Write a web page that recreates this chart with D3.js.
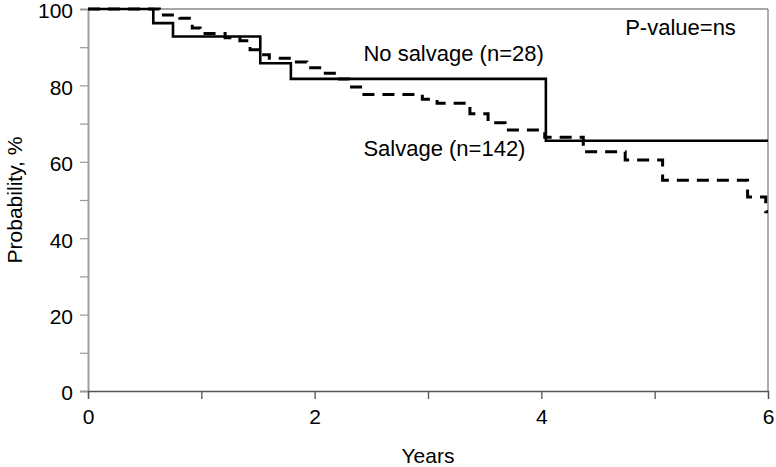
<!DOCTYPE html>
<html>
<head>
<meta charset="utf-8">
<script src="https://cdn.jsdelivr.net/npm/d3@7"></script>
<style>
  html, body { margin: 0; padding: 0; background: #fff; }
  svg { display: block; font-family: "Liberation Sans", Arial, sans-serif; }
</style>
</head>
<body>
<svg id="chart" width="776" height="467"></svg>
<script>
// ---- data ----
const xTicks = [0, 2, 4, 6];
const xMinorTicks = [1, 3, 5];
const yTicks = [0, 20, 40, 60, 80, 100];
const yMinorTicks = [10, 30, 50, 70, 90];

// No salvage (n=28): step times (years) and survival (%)
const noSalvageTimes = [0, 0.576, 0.75, 1.52, 1.79, 4.04, 6.0];
const noSalvageProb  = [100, 96.3, 92.8, 85.8, 81.7, 65.5, 65.5];

// Salvage (n=142)
const salvageTimes = [0, 0.63, 0.81, 0.92, 0.99, 1.21, 1.34, 1.43, 1.53, 1.60, 1.80, 1.93, 2.06, 2.20, 2.30, 2.42, 2.95, 3.08, 3.37, 3.53, 3.68, 4.03, 4.37, 4.74, 5.07, 5.82, 5.98, 6.0];
const salvageProb  = [100, 98.4, 97.6, 95.0, 93.6, 92.5, 91.7, 89.3, 88.0, 87.1, 86.1, 84.6, 83.2, 81.7, 79.6, 77.6, 76.4, 75.3, 72.6, 70.2, 68.3, 66.4, 62.6, 60.5, 55.2, 50.8, 46.9, 46.9];

const labels = [
  { text: "No salvage (n=28)", t: 2.43, p: 86.4 },
  { text: "Salvage (n=142)",   t: 2.43, p: 61.5 },
  { text: "P-value=ns",        t: 4.74, p: 93.2 }
];

// ---- layout ----
const svg = d3.select("#chart");
const x = d3.scaleLinear().domain([0, 6]).range([88, 768]);
const y = d3.scaleLinear().domain([0, 100]).range([391, 9]);

// frame: top and right borders
svg.append("line").attr("x1", x(0)).attr("x2", x(6)).attr("y1", y(100)).attr("y2", y(100))
  .attr("stroke", "#a6a6a6").attr("stroke-width", 2);
svg.append("line").attr("x1", x(6)).attr("x2", x(6)).attr("y1", y(100)).attr("y2", y(0))
  .attr("stroke", "#777").attr("stroke-width", 1.2);

// y axis
const yAxis = d3.axisLeft(y).tickValues(yTicks.concat(yMinorTicks)).tickSize(8).tickPadding(7)
  .tickFormat(d => yTicks.includes(d) ? d : "");
const gy = svg.append("g").attr("transform", `translate(${x(0)},0)`).call(yAxis);
gy.select(".domain").attr("stroke", "#a0a0a0").attr("stroke-width", 2);
gy.selectAll(".tick line").attr("stroke", "#999").attr("stroke-width", 1.2);
gy.selectAll(".tick text").attr("font-size", 21).attr("fill", "#000")
  .attr("font-family", "Liberation Sans, Arial, sans-serif").attr("dy", "0.42em");

// x axis
const xAxis = d3.axisBottom(x).tickValues(xTicks.concat(xMinorTicks)).tickSize(8).tickPadding(10)
  .tickFormat(d => xTicks.includes(d) ? d : "");
const gx = svg.append("g").attr("transform", `translate(0,${y(0)})`).call(xAxis);
gx.select(".domain").attr("stroke", "#555").attr("stroke-width", 1.3);
gx.selectAll(".tick line").attr("stroke", "#555").attr("stroke-width", 1.3);
gx.selectAll(".tick text").attr("font-size", 21).attr("fill", "#000")
  .attr("font-family", "Liberation Sans, Arial, sans-serif");

// axis titles
svg.append("text").attr("x", (x(0) + x(6)) / 2).attr("y", 463).attr("text-anchor", "middle")
  .attr("font-size", 21).text("Years");
svg.append("text").attr("transform", `translate(22,${(y(0) + y(100)) / 2}) rotate(-90)`)
  .attr("text-anchor", "middle").attr("font-size", 21).text("Probability, %");

// curves
const line = d3.line().x(d => x(d[0])).y(d => y(d[1])).curve(d3.curveStepAfter);
const salvage = salvageTimes.map((t, i) => [t, salvageProb[i]]);
const noSalvage = noSalvageTimes.map((t, i) => [t, noSalvageProb[i]]);

svg.append("path").datum(salvage).attr("d", line).attr("fill", "none")
  .attr("stroke", "#000").attr("stroke-width", 3).attr("stroke-dasharray", "12,8");
svg.append("path").datum(noSalvage).attr("d", line).attr("fill", "none")
  .attr("stroke", "#000").attr("stroke-width", 2.6);

// labels
svg.selectAll(".lbl").data(labels).enter().append("text").attr("class", "lbl")
  .attr("x", d => x(d.t)).attr("y", d => y(d.p)).attr("font-size", 22).attr("fill", "#000")
  .text(d => d.text);
</script>
</body>
</html>
